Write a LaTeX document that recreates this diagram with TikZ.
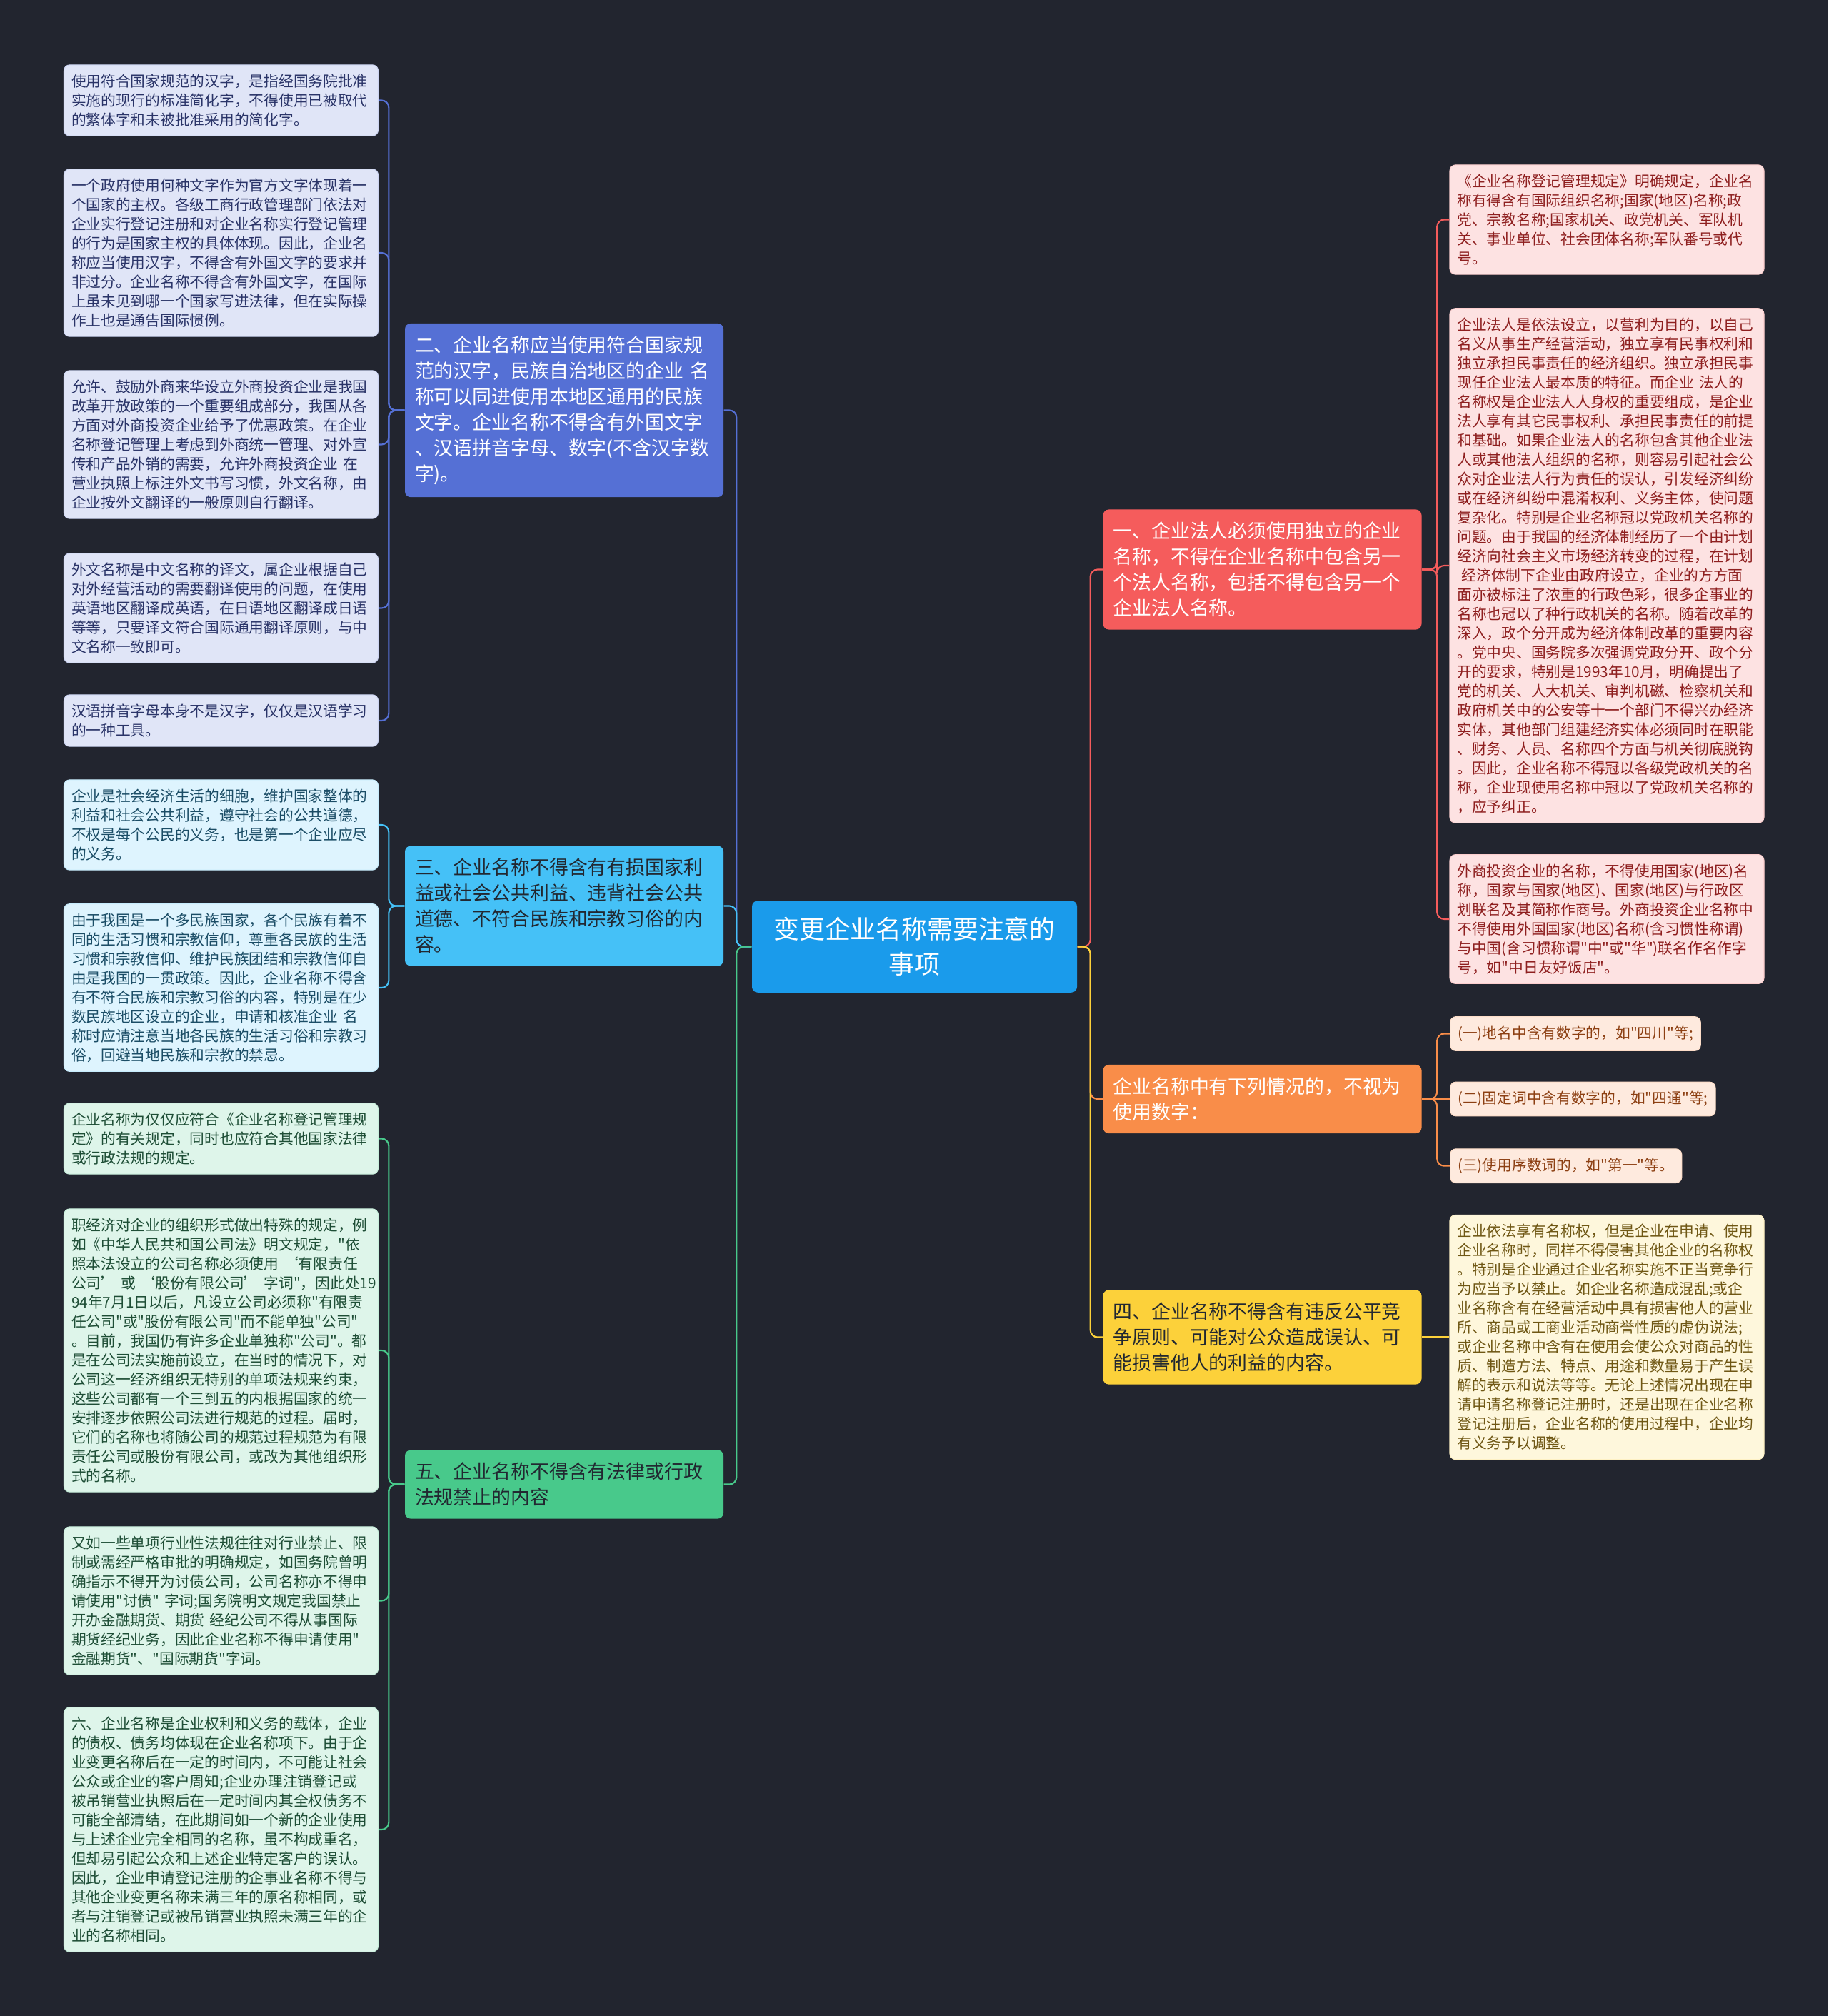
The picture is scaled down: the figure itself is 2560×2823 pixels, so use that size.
\documentclass[tikz,border=0pt]{standalone}
\usepackage{fontspec}
\setmainfont{Noto Sans CJK SC}[Ligatures=TeXOff]
\usetikzlibrary{positioning,calc}
\definecolor{bgcol}{HTML}{22252F}
\definecolor{bRoot}{HTML}{1A9BEB}
\definecolor{bTwo}{HTML}{5570D5}
\definecolor{bThree}{HTML}{45C1F7}
\definecolor{bFive}{HTML}{48C98B}
\definecolor{bOne}{HTML}{F55C5C}
\definecolor{bNum}{HTML}{F98D49}
\definecolor{bFour}{HTML}{FCD13A}
\definecolor{bTwoTxt}{HTML}{2A3468}
\definecolor{bThreeTxt}{HTML}{1B4D66}
\definecolor{bFiveTxt}{HTML}{1E4E36}
\definecolor{bOneTxt}{HTML}{8E1F1F}
\definecolor{bNumTxt}{HTML}{8C3F12}
\definecolor{bFourTxt}{HTML}{6F5714}
\definecolor{topicdark}{HTML}{222831}
\newcommand{\rootfont}{\fontsize{10.2pt}{13.8pt}\selectfont}
\newcommand{\topicfont}{\fontsize{7.65pt}{10.25pt}\selectfont}
\newcommand{\leaffont}{\fontsize{5.9pt}{7.68pt}\selectfont}
\tikzset{
  mm/root/.style={fill=bRoot, text=white, rounded corners=0.8mm, inner xsep=2.25mm, inner ysep=2.33mm, text width=41mm, align=center, font=\rootfont},
  mm/topic/.style 2 args={fill=#1, text=#2, rounded corners=0.8mm, inner xsep=1.4mm, inner ysep=1.75mm, text width=41.8mm, align=left, font=\topicfont},
  mm/leafbase/.style={fill=#1!18!white, draw=#1!30!white, text=#1Txt, rounded corners=0.8mm, inner xsep=1.05mm, inner ysep=1.3mm, align=left, line width=0.3pt, font=\leaffont},
  mm/leaf/.style={mm/leafbase=#1, text width=41.9mm},
  mm/link/.style={draw=#1, line width=0.6pt, rounded corners=1mm}
}

\begin{document}
\begin{tikzpicture}[x=0.1mm, y=-0.1mm]
  \fill[bgcol] (0,0) rectangle (2560,2823);
  \useasboundingbox (0,0) rectangle (2560,2823);

  % root and main topics
  \node[mm/root] (root) at (1280.5,1325.5) {变更企业名称需要注意的\\事项};
  \node[mm/topic={bTwo}{white}] (two) at (790,574.5) {二、企业名称应当使用符合国家规\\范的汉字，民族自治地区的企业~名\\称可以同进使用本地区通用的民族\\文字。企业名称不得含有外国文字\\、汉语拼音字母、数字(不含汉字数\\字)。};
  \node[mm/topic={bThree}{topicdark}] (three) at (790,1268.5) {三、企业名称不得含有有损国家利\\益或社会公共利益、违背社会公共\\道德、不符合民族和宗教习俗的内\\容。};
  \node[mm/topic={bFive}{topicdark}] (five) at (790,2078.5) {五、企业名称不得含有法律或行政\\法规禁止的内容};
  \node[mm/topic={bOne}{white}] (one) at (1767.5,797.5) {一、企业法人必须使用独立的企业\\名称，不得在企业名称中包含另一\\个法人名称，包括不得包含另一个\\企业法人名称。};
  \node[mm/topic={bNum}{white}] (num) at (1767.5,1539) {企业名称中有下列情况的，不视为\\使用数字：};
  \node[mm/topic={bFour}{topicdark}] (four) at (1767.5,1872.5) {四、企业名称不得含有违反公平竞\\争原则、可能对公众造成误认、可\\能损害他人的利益的内容。};

  % left leaves
  \node[mm/leaf=bTwo] (a1) at (309.5,140.5) {使用符合国家规范的汉字，是指经国务院批准\\实施的现行的标准简化字，不得使用已被取代\\的繁体字和未被批准采用的简化字。};
  \node[mm/leaf=bTwo] (a2) at (309.5,354) {一个政府使用何种文字作为官方文字体现着一\\个国家的主权。各级工商行政管理部门依法对\\企业实行登记注册和对企业名称实行登记管理\\的行为是国家主权的具体体现。因此，企业名\\称应当使用汉字，不得含有外国文字的要求并\\非过分。企业名称不得含有外国文字，在国际\\上虽未见到哪一个国家写进法律，但在实际操\\作上也是通告国际惯例。};
  \node[mm/leaf=bTwo] (a3) at (309.5,622.5) {允许、鼓励外商来华设立外商投资企业是我国\\改革开放政策的一个重要组成部分，我国从各\\方面对外商投资企业给予了优惠政策。在企业\\名称登记管理上考虑到外商统一管理、对外宣\\传和产品外销的需要，允许外商投资企业~在\\营业执照上标注外文书写习惯，外文名称，由\\企业按外文翻译的一般原则自行翻译。};
  \node[mm/leaf=bTwo] (a4) at (309.5,851.5) {外文名称是中文名称的译文，属企业根据自己\\对外经营活动的需要翻译使用的问题，在使用\\英语地区翻译成英语，在日语地区翻译成日语\\等等，只要译文符合国际通用翻译原则，与中\\文名称一致即可。};
  \node[mm/leaf=bTwo] (a5) at (309.5,1009) {汉语拼音字母本身不是汉字，仅仅是汉语学习\\的一种工具。};
  \node[mm/leaf=bThree] (b1) at (309.5,1155) {企业是社会经济生活的细胞，维护国家整体的\\利益和社会公共利益，遵守社会的公共道德，\\不权是每个公民的义务，也是第一个企业应尽\\的义务。};
  \node[mm/leaf=bThree] (b2) at (309.5,1383) {由于我国是一个多民族国家，各个民族有着不\\同的生活习惯和宗教信仰，尊重各民族的生活\\习惯和宗教信仰、维护民族团结和宗教信仰自\\由是我国的一贯政策。因此，企业名称不得含\\有不符合民族和宗教习俗的内容，特别是在少\\数民族地区设立的企业，申请和核准企业~名\\称时应请注意当地各民族的生活习俗和宗教习\\俗，回避当地民族和宗教的禁忌。};
  \node[mm/leaf=bFive] (c1) at (309.5,1594.5) {企业名称为仅仅应符合《企业名称登记管理规\\定》的有关规定，同时也应符合其他国家法律\\或行政法规的规定。};
  \node[mm/leaf=bFive] (c2) at (309.5,1891) {职经济对企业的组织形式做出特殊的规定，例\\如《中华人民共和国公司法》明文规定，"依\\照本法设立的公司名称必须使用~‘有限责任\\公司’~或~‘股份有限公司’~字词"，因此处19\\94年7月1日以后，凡设立公司必须称"有限责\\任公司"或"股份有限公司"而不能单独"公司"\\。目前，我国仍有许多企业单独称"公司"。都\\是在公司法实施前设立，在当时的情况下，对\\公司这一经济组织无特别的单项法规来约束，\\这些公司都有一个三到五的内根据国家的统一\\安排逐步依照公司法进行规范的过程。届时，\\它们的名称也将随公司的规范过程规范为有限\\责任公司或股份有限公司，或改为其他组织形\\式的名称。};
  \node[mm/leaf=bFive] (c3) at (309.5,2241.5) {又如一些单项行业性法规往往对行业禁止、限\\制或需经严格审批的明确规定，如国务院曾明\\确指示不得开为讨债公司，公司名称亦不得申\\请使用"讨债"~字词;国务院明文规定我国禁止\\开办金融期货、期货~经纪公司不得从事国际\\期货经纪业务，因此企业名称不得申请使用"\\金融期货"、"国际期货"字词。};
  \node[mm/leaf=bFive] (c4) at (309.5,2562) {六、企业名称是企业权利和义务的载体，企业\\的债权、债务均体现在企业名称项下。由于企\\业变更名称后在一定的时间内，不可能让社会\\公众或企业的客户周知;企业办理注销登记或\\被吊销营业执照后在一定时间内其全权债务不\\可能全部清结，在此期间如一个新的企业使用\\与上述企业完全相同的名称，虽不构成重名，\\但却易引起公众和上述企业特定客户的误认。\\因此，企业申请登记注册的企事业名称不得与\\其他企业变更名称未满三年的原名称相同，或\\者与注销登记或被吊销营业执照未满三年的企\\业的名称相同。};

  % right leaves
  \node[mm/leaf=bOne] (d1) at (2250,307.5) {《企业名称登记管理规定》明确规定，企业名\\称有得含有国际组织名称;国家(地区)名称;政\\党、宗教名称;国家机关、政党机关、军队机\\关、事业单位、社会团体名称;军队番号或代\\号。};
  \node[mm/leaf=bOne] (d2) at (2250,792) {企业法人是依法设立，以营利为目的，以自己\\名义从事生产经营活动，独立享有民事权利和\\独立承担民事责任的经济组织。独立承担民事\\现任企业法人最本质的特征。而企业~法人的\\名称权是企业法人人身权的重要组成，是企业\\法人享有其它民事权利、承担民事责任的前提\\和基础。如果企业法人的名称包含其他企业法\\人或其他法人组织的名称，则容易引起社会公\\众对企业法人行为责任的误认，引发经济纠纷\\或在经济纠纷中混淆权利、义务主体，使问题\\复杂化。特别是企业名称冠以党政机关名称的\\问题。由于我国的经济体制经历了一个由计划\\经济向社会主义市场经济转变的过程，在计划\\\hspace*{0.3em}经济体制下企业由政府设立，企业的方方面\\面亦被标注了浓重的行政色彩，很多企事业的\\名称也冠以了种行政机关的名称。随着改革的\\深入，政个分开成为经济体制改革的重要内容\\。党中央、国务院多次强调党政分开、政个分\\开的要求，特别是1993年10月，明确提出了\\党的机关、人大机关、审判机磁、检察机关和\\政府机关中的公安等十一个部门不得兴办经济\\实体，其他部门组建经济实体必须同时在职能\\、财务、人员、名称四个方面与机关彻底脱钩\\。因此，企业名称不得冠以各级党政机关的名\\称，企业现使用名称中冠以了党政机关名称的\\，应予纠正。};
  \node[mm/leaf=bOne] (d3) at (2250,1287) {外商投资企业的名称，不得使用国家(地区)名\\称，国家与国家(地区)、国家(地区)与行政区\\划联名及其简称作商号。外商投资企业名称中\\不得使用外国国家(地区)名称(含习惯性称谓)\\与中国(含习惯称谓"中"或"华")联名作名作字\\号，如"中日友好饭店"。};
  \node[mm/leafbase=bNum, anchor=west] (e1) at (2030,1447.5) {(一)地名中含有数字的，如"四川"等;};
  \node[mm/leafbase=bNum, anchor=west] (e2) at (2030,1539) {(二)固定词中含有数字的，如"四通"等;};
  \node[mm/leafbase=bNum, below=4.5mm of e2.south west, anchor=north west] (e3) {(三)使用序数词的，如"第一"等。};
  \node[mm/leaf=bFour] (f1) at (2250,1872.5) {企业依法享有名称权，但是企业在申请、使用\\企业名称时，同样不得侵害其他企业的名称权\\。特别是企业通过企业名称实施不正当竞争行\\为应当予以禁止。如企业名称造成混乱;或企\\业名称含有在经营活动中具有损害他人的营业\\所、商品或工商业活动商誉性质的虚伪说法;\\或企业名称中含有在使用会使公众对商品的性\\质、制造方法、特点、用途和数量易于产生误\\解的表示和说法等等。无论上述情况出现在申\\请申请名称登记注册时，还是出现在企业名称\\登记注册后，企业名称的使用过程中，企业均\\有义务予以调整。};

  % connectors root -- topics
  \coordinate (lk) at ($(root.west)+(-21,0)$);
  \coordinate (rk) at ($(root.east)+(18,0)$);
  \foreach \t/\c in {two/bTwo, three/bThree, five/bFive}
    \draw[mm/link=\c] (\t.east) -| (lk) -- (root.west);
  \foreach \t/\c in {one/bOne, num/bNum, four/bFour}
    \draw[mm/link=\c] (root.east) -- (rk) |- (\t.west);

  % connectors topics -- leaves
  \coordinate (k2) at ($(two.west)+(-22,0)$);
  \coordinate (k3) at ($(three.west)+(-22,0)$);
  \coordinate (k5) at ($(five.west)+(-22,0)$);
  \coordinate (k1) at ($(one.east)+(21,0)$);
  \coordinate (kn) at ($(num.east)+(21,0)$);
  \coordinate (k4) at ($(four.east)+(21,0)$);
  \foreach \l in {a1,a2,a3,a4,a5}
    \draw[mm/link=bTwo] (two.west) -- (k2) |- (\l.east);
  \foreach \l in {b1,b2}
    \draw[mm/link=bThree] (three.west) -- (k3) |- (\l.east);
  \foreach \l in {c1,c2,c3,c4}
    \draw[mm/link=bFive] (five.west) -- (k5) |- (\l.east);
  \foreach \l in {d1,d2,d3}
    \draw[mm/link=bOne] (one.east) -- (k1) |- (\l.west);
  \foreach \l in {e1,e3}
    \draw[mm/link=bNum] (num.east) -- (kn) |- (\l.west);
  \draw[mm/link=bNum] (num.east) -- (e2.west);
  \draw[mm/link=bFour] (four.east) -- (f1.west);
\end{tikzpicture}
\end{document}
